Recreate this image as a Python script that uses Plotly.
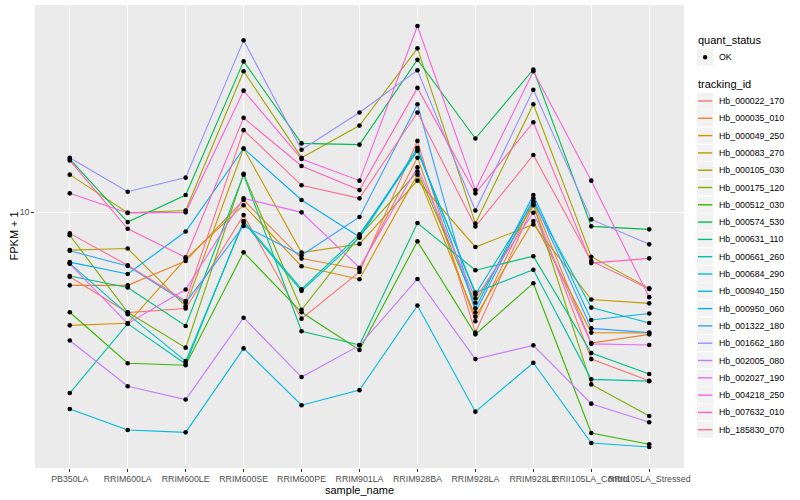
import numpy as np
import plotly.graph_objects as go

# ---------------- data ----------------
samples = ["PB350LA", "RRIM600LA", "RRIM600LE", "RRIM600SE", "RRIM600PE",
           "RRIM901LA", "RRIM928BA", "RRIM928LA", "RRIM928LE",
           "RRII105LA_Control", "RRII105LA_Stressed"]

tracking_ids = ["Hb_000022_170", "Hb_000035_010", "Hb_000049_250", "Hb_000083_270",
                "Hb_000105_030", "Hb_000175_120", "Hb_000512_030", "Hb_000574_530",
                "Hb_000631_110", "Hb_000661_260", "Hb_000684_290", "Hb_000940_150",
                "Hb_000950_060", "Hb_001322_180", "Hb_001662_180", "Hb_002005_080",
                "Hb_002027_190", "Hb_004218_250", "Hb_007632_010", "Hb_185830_070"]

quant_status = ["OK"]

# FPKM + 1 per sample (same order as samples)
hb_000022_170 = [7.02, 5.77, 5.90, 9.85, 5.58, 7.21, 14.8, 5.17, 10.4, 4.47, 3.97]
hb_000035_010 = [6.70, 6.70, 7.66, 10.7, 7.76, 7.32, 13.5, 5.50, 10.6, 4.88, 5.12]
hb_000049_250 = [5.38, 5.44, 7.75, 10.4, 7.44, 6.93, 12.3, 5.64, 9.54, 5.17, 5.16]
hb_000083_270 = [8.13, 8.20, 5.97, 14.2, 8.02, 8.41, 11.9, 8.27, 9.36, 6.20, 6.07]
hb_000105_030 = [12.3, 9.98, 10.1, 21.7, 13.5, 16.1, 24.6, 9.41, 18.1, 7.84, 6.59]
hb_000175_120 = [8.82, 5.78, 4.76, 12.35, 5.86, 8.78, 12.5, 6.09, 10.45, 3.89, 3.27]
hb_000512_030 = [5.78, 4.37, 4.32, 8.03, 5.78, 4.70, 8.53, 5.12, 6.78, 2.98, 2.80]
hb_000574_530 = [13.4, 9.48, 11.0, 22.9, 14.6, 14.5, 23.1, 15.0, 21.9, 9.26, 9.11]
hb_000631_110 = [7.05, 6.62, 5.36, 12.3, 5.21, 4.83, 9.43, 7.28, 7.86, 4.62, 4.12]
hb_000661_260 = [3.71, 5.43, 4.35, 9.54, 6.56, 8.86, 14.0, 6.44, 7.30, 4.00, 3.96]
hb_000684_290 = [7.56, 5.72, 4.42, 9.47, 6.50, 8.70, 14.1, 6.38, 10.6, 5.93, 5.45]
hb_000940_150 = [3.40, 3.03, 2.99, 4.74, 3.47, 3.77, 6.00, 3.35, 4.38, 2.82, 2.76]
hb_000950_060 = [7.61, 7.13, 9.00, 14.2, 10.7, 8.74, 14.25, 5.91, 11.0, 5.54, 5.74]
hb_001322_180 = [8.10, 7.45, 6.10, 9.28, 7.90, 9.75, 18.1, 5.77, 10.8, 5.29, 5.17]
hb_001662_180 = [13.5, 11.2, 12.1, 25.7, 14.1, 17.3, 21.8, 10.1, 19.6, 9.62, 8.39]
hb_002005_080 = [4.95, 3.85, 3.58, 5.61, 4.05, 4.82, 6.94, 4.47, 4.82, 3.50, 3.16]
hb_002027_190 = [7.54, 5.43, 6.55, 10.8, 10.0, 7.38, 12.8, 6.24, 9.98, 4.86, 4.83]
hb_004218_250 = [11.1, 9.97, 10.0, 19.5, 13.4, 11.9, 27.8, 11.3, 21.7, 11.9, 6.28]
hb_007632_010 = [13.3, 9.14, 7.81, 16.8, 12.9, 11.3, 19.8, 11.1, 16.4, 7.57, 7.77]
hb_185830_070 = [8.91, 7.48, 6.15, 15.7, 11.6, 10.8, 17.3, 9.25, 13.7, 7.66, 6.57]

series = [hb_000022_170, hb_000035_010, hb_000049_250, hb_000083_270, hb_000105_030,
          hb_000175_120, hb_000512_030, hb_000574_530, hb_000631_110, hb_000661_260,
          hb_000684_290, hb_000940_150, hb_000950_060, hb_001322_180, hb_001662_180,
          hb_002005_080, hb_002027_190, hb_004218_250, hb_007632_010, hb_185830_070]

# ---------------- style ----------------
colors = ["#F8766D", "#EA8331", "#D89000", "#C09B00", "#A3A500", "#7CAE00", "#39B600",
          "#00BB4E", "#00BF7D", "#00C1A3", "#00BFC4", "#00BAE0", "#00B0F6", "#35A2FF",
          "#9590FF", "#C77CFF", "#E76BF3", "#FA62DB", "#FF62BC", "#FF6C91"]

W, H = 800, 500
ML, MR, MT, MB = 35, 116, 5, 32
PW = W - ML - MR
PH = H - MT - MB
FONT = "Liberation Sans, Arial, Helvetica, sans-serif"


def px(x):
    return (x - ML) / PW


def py(y):
    return (H - MB - y) / PH


fig = go.Figure()
for name, vals, col in zip(tracking_ids, series, colors):
    fig.add_trace(go.Scatter(x=samples, y=vals, mode="lines", name=name,
                             line=dict(color=col, width=1.1),
                             showlegend=False, hoverinfo="skip"))
for name, vals in zip(tracking_ids, series):
    fig.add_trace(go.Scatter(x=samples, y=vals, mode="markers", name=name,
                             marker=dict(color="black", size=4.6),
                             showlegend=False))

allv = np.concatenate([np.asarray(s, dtype=float) for s in series])
lo, hi = np.log10(allv.min()), np.log10(allv.max())
pad = 0.05 * (hi - lo)

fig.update_layout(
    width=W, height=H,
    margin=dict(l=ML, r=MR, t=MT, b=MB),
    plot_bgcolor="#EBEBEB", paper_bgcolor="white",
    font=dict(family=FONT, size=8.8, color="#4D4D4D"),
    showlegend=False,
)
fig.update_xaxes(type="category", range=[-0.6, len(samples) - 0.4],
                 showgrid=True, gridcolor="white", gridwidth=1.1,
                 ticks="outside", ticklen=2.75, tickwidth=1, tickcolor="#333333",
                 tickangle=0, zeroline=False, showline=False,
                 tickfont=dict(family=FONT, size=8.8, color="#4D4D4D"))
fig.update_yaxes(type="log", range=[lo - pad, hi + pad],
                 tickvals=[10], ticktext=["10"],
                 showgrid=True, gridcolor="white", gridwidth=1.1,
                 ticks="outside", ticklen=2.75, tickwidth=1, tickcolor="#333333",
                 zeroline=False, showline=False,
                 tickfont=dict(family=FONT, size=8.8, color="#4D4D4D"))

annotations = []
shapes = []
# axis titles
annotations.append(dict(text="sample_name", x=px((ML + W - MR) / 2), y=py(490),
                        xref="paper", yref="paper", showarrow=False,
                        xanchor="center", yanchor="middle",
                        font=dict(family=FONT, size=11, color="black")))
annotations.append(dict(text="FPKM + 1", x=px(13), y=py((MT + H - MB) / 2),
                        xref="paper", yref="paper", showarrow=False, textangle=-90,
                        xanchor="center", yanchor="middle",
                        font=dict(family=FONT, size=11, color="black")))

# legend: quant_status
kx0, kx1 = 696.5, 713.8
ks = 17.3
annotations.append(dict(text="quant_status", x=px(696), y=py(40), xref="paper", yref="paper",
                        showarrow=False, xanchor="left", yanchor="middle",
                        font=dict(family=FONT, size=11, color="black")))
cy = 57.3
shapes.append(dict(type="rect", xref="paper", yref="paper",
                   x0=px(kx0), x1=px(kx1), y0=py(cy - ks / 2), y1=py(cy + ks / 2),
                   fillcolor="#F2F2F2", line=dict(color="white", width=1), layer="below"))
r = 2.2
cx = (kx0 + kx1) / 2
shapes.append(dict(type="circle", xref="paper", yref="paper",
                   x0=px(cx - r), x1=px(cx + r), y0=py(cy - r), y1=py(cy + r),
                   fillcolor="black", line=dict(color="black", width=0)))
annotations.append(dict(text=quant_status[0], x=px(716.5), y=py(cy), xref="paper", yref="paper",
                        showarrow=False, xanchor="left", yanchor="middle",
                        font=dict(family=FONT, size=8.8, color="black")))

# legend: tracking_id
annotations.append(dict(text="tracking_id", x=px(696), y=py(84.3), xref="paper", yref="paper",
                        showarrow=False, xanchor="left", yanchor="middle",
                        font=dict(family=FONT, size=11, color="black")))
for i, (name, col) in enumerate(zip(tracking_ids, colors)):
    yc = 101 + ks * i
    shapes.append(dict(type="rect", xref="paper", yref="paper",
                       x0=px(kx0), x1=px(kx1), y0=py(yc - ks / 2), y1=py(yc + ks / 2),
                       fillcolor="#F2F2F2", line=dict(color="white", width=1)))
    shapes.append(dict(type="line", xref="paper", yref="paper",
                       x0=px(kx0 + 1.5), x1=px(kx1 - 1.5), y0=py(yc), y1=py(yc),
                       line=dict(color=col, width=1.4)))
    annotations.append(dict(text=name, x=px(716.5), y=py(yc), xref="paper", yref="paper",
                            showarrow=False, xanchor="left", yanchor="middle",
                            font=dict(family=FONT, size=8.8, color="black")))

fig.update_layout(annotations=annotations, shapes=shapes)
fig.write_html("out.html",
               config={"displayModeBar": False, "staticPlot": True},
               post_script="document.body.style.margin='0px';document.body.style.padding='0px';")
